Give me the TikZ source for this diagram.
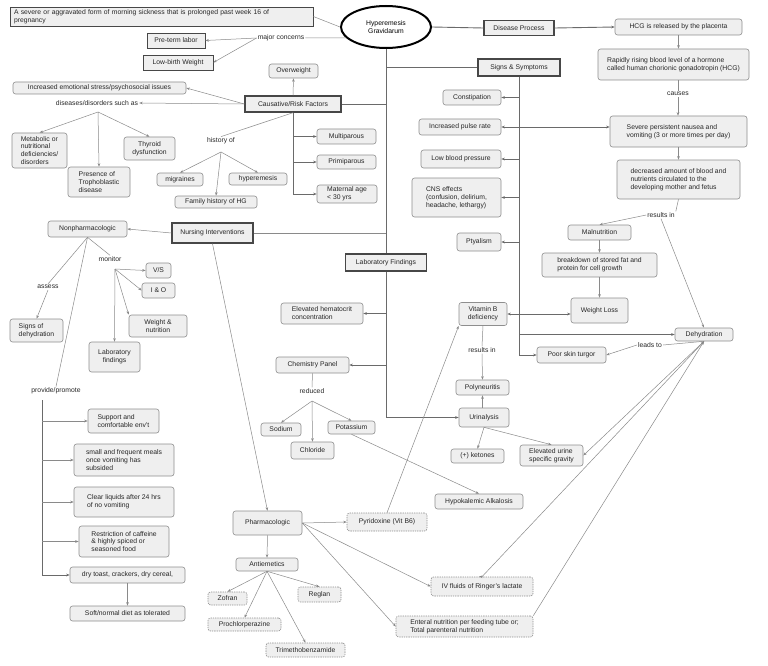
\documentclass[tikz,border=0pt]{standalone}
\usepackage{fontspec}
\setmainfont{Liberation Sans}
\usetikzlibrary{arrows.meta,shapes.geometric}
\definecolor{boxfill}{HTML}{EFEFEF}
\definecolor{boxline}{HTML}{8E8E8E}
\definecolor{tline}{HTML}{474747}
\definecolor{lnc}{HTML}{8A8A8A}
\definecolor{trk}{HTML}{6A6A6A}
\newcommand{\fsz}{\fontsize{6.8}{7.9}\selectfont}
\tikzset{
  base/.style={font=\fsz, inner sep=1.5pt, align=center, text=black!85},
  sz/.style 2 args={minimum width=#1pt, minimum height=#2pt},
  cbox/.style={base, draw=boxline, fill=boxfill, rounded corners=2.5pt, line width=0.6pt},
  tbox/.style={base, draw=tline, fill=boxfill, line width=1.4pt},
  sbox/.style={base, draw=tline, fill=boxfill, line width=0.7pt},
  dbox/.style={cbox, dash pattern=on 1.3pt off 1pt},
  lbl/.style={base, inner sep=1pt},
  conn/.style={draw=lnc, line width=0.5pt},
  arr/.style={conn, -{Stealth[length=3.5pt,width=2.6pt]}},
  trunkl/.style={draw=trk, line width=0.9pt},
  tarr/.style={trunkl, -{Stealth[length=3.5pt,width=2.6pt]}}
}
\begin{document}
\begin{tikzpicture}[x=1pt,y=-1pt]
\useasboundingbox (0,0) rectangle (768,666);
\fill[white] (0,0) rectangle (768,666);

% ---------- main nodes ----------
\node[ellipse, draw=black, line width=2pt, fill=white, minimum width=90pt, minimum height=42pt, font=\fsz, align=center, inner sep=0pt] (hg) at (386,27) {Hyperemesis\\Gravidarum};
\node[sbox, inner xsep=4pt, text width=295pt, align=left, minimum height=19pt] (def) at (161.5,16.5) {A severe or aggravated form of morning sickness that is prolonged past week 16 of\\pregnancy};
\node[sbox, sz={58}{15}] (preterm) at (176,40.5) {Pre-term labor};
\node[sbox, sz={70}{15}] (lbw) at (178,62.5) {Low-birth Weight};
\node[lbl] (mc) at (281,38) {major concerns};

\node[cbox, sz={49}{14}] (overweight) at (293.5,71) {Overweight};
\node[tbox, sz={96}{16}] (causative) at (293,104) {Causative/Risk Factors};
\node[cbox, sz={173}{12}] (emotional) at (99.5,88) {Increased emotional stress/psychosocial issues};
\node[lbl] (diseases) at (97,103) {diseases/disorders such as};
\node[cbox, sz={55}{35}, align=left] (metabolic) at (39.5,150.5) {Metabolic or\\nutritional\\deficiencies/\\disorders};
\node[cbox, sz={51}{23}] (thyroid) at (149.5,148.5) {Thyroid\\dysfunction};
\node[cbox, sz={62}{30}, align=left] (tropho) at (99,182) {Presence of\\Trophoblastic\\disease};
\node[lbl] (historyof) at (221,141) {history of};
\node[cbox, sz={46}{13}] (migraines) at (180,179.5) {migraines};
\node[cbox, sz={58}{12}] (hyperemesis) at (258,179) {hyperemesis};
\node[cbox, sz={82}{12}] (famhist) at (216,202) {Family history of HG};
\node[cbox, sz={59}{15}] (multiparous) at (346.5,136.5) {Multiparous};
\node[cbox, sz={59}{14}] (primiparous) at (346.5,162) {Primiparous};
\node[cbox, sz={60}{18}, align=left] (maternal) at (347,194) {Maternal age\\< 30 yrs};

\node[tbox, sz={70}{15}] (dp) at (519,28) {Disease Process};
\node[cbox, sz={127}{16}] (hcg) at (678.5,27) {HCG is released by the placenta};
\node[cbox, sz={151}{31}, align=left] (rapidly) at (673.5,64.5) {Rapidly rising blood level of a hormone\\called human chorionic gonadotropin (HCG)};
\node[lbl] (causes) at (678,94) {causes};
\node[cbox, sz={137}{31}, align=left] (severe) at (678.5,131.5) {Severe persistent nausea and\\vomiting (3 or more times per day)};
\node[cbox, sz={123}{39}, align=left] (decreased) at (678.5,179.5) {decreased amount of blood and\\nutrients circulated to the\\developing mother and fetus};
\node[lbl] (r1) at (661,215) {results in};
\node[cbox, sz={63}{15}] (malnutrition) at (599.5,232.5) {Malnutrition};
\node[cbox, sz={115}{24}, align=left] (breakdown) at (599.5,265) {breakdown of stored fat and\\protein for cell growth};
\node[cbox, sz={57}{25}] (weightloss) at (599.5,310.5) {Weight Loss};
\node[cbox, sz={58}{13}] (dehydration) at (704,334.5) {Dehydration};
\node[lbl] (leadsto) at (650,345) {leads to};
\node[cbox, sz={69}{16}] (skinturgor) at (571.5,355) {Poor skin turgor};

\node[tbox, sz={82}{17}] (signs) at (519,67.5) {Signs \& Symptoms};
\node[cbox, sz={58}{15}] (constipation) at (472,97.5) {Constipation};
\node[cbox, sz={82}{16}] (pulse) at (460,127) {Increased pulse rate};
\node[cbox, sz={80}{18}] (lowbp) at (461,159) {Low blood pressure};
\node[cbox, sz={89}{39}, align=left] (cns) at (456.5,197.5) {CNS effects\\(confusion, delirium,\\headache, lethargy)};
\node[cbox, sz={44}{18}] (ptyalism) at (479,242) {Ptyalism};
\node[cbox, sz={48}{23}] (vitb) at (483,314) {Vitamin B\\deficiency};
\node[lbl] (r2) at (482,350) {results in};
\node[cbox, sz={53}{15}] (polyneuritis) at (482.5,387.5) {Polyneuritis};
\node[cbox, sz={50}{19}] (urinalysis) at (484,417.5) {Urinalysis};
\node[cbox, sz={53}{14}] (ketones) at (477.5,456) {(+) ketones};
\node[cbox, sz={63}{21}, align=left] (urinegrav) at (551.5,455.5) {Elevated urine\\specific gravity};

\node[tbox, sz={81}{17}] (labfind) at (386,262.5) {Laboratory Findings};
\node[cbox, sz={82}{21}, align=left] (hematocrit) at (322,313.5) {Elevated hematocrit\\concentration};
\node[cbox, sz={73}{16}] (chem) at (312.5,365) {Chemistry Panel};
\node[lbl] (reduced) at (312,391) {reduced};
\node[cbox, sz={40}{13}] (sodium) at (281,429.5) {Sodium};
\node[cbox, sz={43}{17}] (chloride) at (312.5,450.5) {Chloride};
\node[cbox, sz={47}{13}] (potassium) at (351.5,427.5) {Potassium};
\node[cbox, sz={88}{15}] (hypok) at (479,501.5) {Hypokalemic Alkalosis};
\node[dbox, sz={80}{18}] (pyridoxine) at (387,522) {Pyridoxine (Vit B6)};
\node[dbox, sz={102}{19}] (ivfluids) at (482,586.5) {IV fluids of Ringer's lactate};
\node[dbox, sz={137}{21}, align=left] (enteral) at (464.5,626.5) {Enteral nutrition per feeding tube or;\\Total parenteral nutrition};

\node[cbox, sz={69}{24}] (pharma) at (267.5,523) {Pharmacologic};
\node[cbox, sz={62}{13}] (antiemetics) at (267,564.5) {Antiemetics};
\node[dbox, sz={39}{13}] (zofran) at (227.5,598.5) {Zofran};
\node[dbox, sz={43}{15}] (reglan) at (319.5,594.5) {Reglan};
\node[dbox, sz={73}{13}] (prochlor) at (244.5,624.5) {Prochlorperazine};
\node[dbox, sz={79}{14}] (trimetho) at (305.5,650) {Trimethobenzamide};

\node[tbox, sz={81}{20}] (nursing) at (212.5,233) {Nursing Interventions};
\node[cbox, sz={79}{16}] (nonpharm) at (87.5,229) {Nonpharmacologic};
\node[lbl] (monitor) at (110,259) {monitor};
\node[lbl] (assess) at (48,287) {assess};
\node[cbox, sz={53}{23}, align=left] (signsdehyd) at (36.5,330.5) {Signs of\\dehydration};
\node[cbox, sz={25}{15}] (vs) at (158.5,270.5) {V/S};
\node[cbox, sz={33}{15}] (io) at (158.5,290.5) {I \& O};
\node[cbox, sz={58}{22}] (weightnut) at (158,326) {Weight \&\\nutrition};
\node[cbox, sz={51}{30}] (labfindings2) at (114.5,357) {Laboratory\\findings};
\node[lbl] (provide) at (56,391) {provide/promote};
\node[cbox, sz={71}{24}, align=left] (support) at (123.5,421) {Support and\\comfortable env't};
\node[cbox, sz={100}{32}, align=left] (smallmeals) at (124,460) {small and frequent meals\\once vomiting has\\subsided};
\node[cbox, sz={100}{30}, align=left] (clear) at (124,502) {Clear liquids after 24 hrs\\of no vomiting};
\node[cbox, sz={90}{31}, align=left] (restriction) at (124,541.5) {Restriction of caffeine\\\& highly spiced or\\seasoned food};
\node[cbox, sz={115}{16}] (drytoast) at (127.5,575) {dry toast, crackers, dry cereal,};
\node[cbox, sz={115}{15}] (softdiet) at (127.5,613.5) {Soft/normal diet as tolerated};

\coordinate (hist0) at (221,152);
\coordinate (dis0) at (98,112);
\coordinate (mo) at (115,269);
\coordinate (pv) at (42,400);
\coordinate (rd) at (312,401);

% ---------- connectors ----------
\draw[conn] (hg.west) -- (def.east);
\draw[conn] (hg.195) -- (mc.east);
\draw[arr] (mc.west) -- (preterm.east);
\draw[arr] (mc.west) -- (lbw.east);

\draw[trunkl] (hg.south) -- (labfind.north);
\draw[tarr] (labfind.south) |- (urinalysis.west);
\draw[trunkl] (hg.south |- signs.west) -- (signs.west);
\draw[trunkl] (causative.east) -- (causative.east -| hg.south);
\draw[conn, line width=0.7pt] (nursing.east) -- (nursing.east -| hg.south);
\draw[tarr] (hematocrit.east -| hg.south) -- (hematocrit.east);
\draw[tarr] (chem.east -| hg.south) -- (chem.east);

\draw[trunkl] (hg.east) -- (dp.west);
\draw[tarr] (dp.east) -- (hcg.west);
\draw[arr] (hcg.south) -- (hcg.south |- rapidly.north);
\draw[conn] (causes |- rapidly.south) -- (causes.north);
\draw[arr] (causes.south) -- (causes |- severe.north);
\draw[arr] (severe.south) -- (decreased.north);
\draw[conn] (decreased.south) -- (r1.north east);
\draw[arr] (r1.west) -- (malnutrition.north);
\draw[arr] (r1.south) -- (dehydration.north);
\draw[arr] (malnutrition.south) -- (breakdown.north);
\draw[arr] (breakdown.south) -- (weightloss.north);
\draw[conn] (dehydration.south) -- (leadsto.east);
\draw[arr] (leadsto.west) -- (skinturgor.east);

\draw[tarr] (signs.south) |- (skinturgor.west);
\draw[tarr] (constipation.east -| signs.south) -- (constipation.east);
\draw[tarr] (pulse.east -| signs.south) -- (pulse.east);
\draw[tarr] (signs.south |- pulse.east) -- (severe.west |- pulse.east);
\draw[tarr] (lowbp.east -| signs.south) -- (lowbp.east);
\draw[tarr] (cns.east -| signs.south) -- (cns.east);
\draw[tarr] (ptyalism.east -| signs.south) -- (ptyalism.east);
\draw[tarr] (vitb.east -| signs.south) -- (vitb.east);
\draw[tarr] (signs.south |- vitb.east) -- (weightloss.west |- vitb.east);
\draw[tarr] (signs.south |- dehydration.west) -- (dehydration.west);

\draw[conn] (vitb.south) -- (r2.north);
\draw[arr] (r2.south) -- (polyneuritis.north);
\draw[arr] (urinalysis.north -| polyneuritis.south) -- (polyneuritis.south);
\draw[arr] (urinalysis.south) -- (ketones.north);
\draw[arr] (urinalysis.south) -- (urinegrav.north);
\draw[arr] (dehydration.south) -- (urinegrav.east);
\draw[arr] (ivfluids.north) -- (dehydration.south);
\draw[arr] (enteral.north east) -- (dehydration.south);
\draw[arr] (ivfluids.north) -- (ivfluids.north -| hypok.south);
\draw[arr] (potassium.south) -- (hypok.north);

\draw[conn] (chem.south) -- (reduced.north);
\draw[arr] (rd) -- (sodium.north);
\draw[arr] (rd) -- (chloride.north);
\draw[arr] (rd) -- (potassium.north);

\draw[arr] (nursing.south) -- (pharma.north);
\draw[arr] (pharma.east) -- (pyridoxine.west);
\draw[arr] (pharma.east) -- (ivfluids.west);
\draw[arr] (pharma.east) -- (enteral.west);
\draw[arr] (pyridoxine.north) -- (vitb.south west);
\draw[arr] (pharma.south) -- (antiemetics.north);
\draw[arr] (antiemetics.south) -- (zofran.north);
\draw[arr] (antiemetics.south) -- (prochlor.north);
\draw[arr] (antiemetics.south) -- (trimetho.north);
\draw[arr] (antiemetics.south) -- (reglan.north);

\draw[arr] (causative.north) -- (overweight.south);
\draw[arr] (causative.west) -- (emotional.east);
\draw[arr] (causative.west) -- (diseases.east);
\draw[arr] (dis0) -- (metabolic.north);
\draw[arr] (dis0) -- (tropho.north);
\draw[arr] (dis0) -- (thyroid.north);
\draw[conn] (causative.south) -- (historyof.north);
\draw[arr] (hist0) -- (migraines.north);
\draw[arr] (hist0) -- (famhist.north);
\draw[arr] (hist0) -- (hyperemesis.north);
\draw[tarr] (causative.south) |- (maternal.west);
\draw[tarr] (causative.south |- multiparous.west) -- (multiparous.west);
\draw[tarr] (causative.south |- primiparous.west) -- (primiparous.west);

\draw[arr] (nursing.west) -- (nonpharm.east);
\draw[conn] (nonpharm.south) -- (monitor.north);
\draw[conn] (nonpharm.south) -- (assess.north);
\draw[conn] (nonpharm.south) -- (provide.north);
\draw[arr] (assess.south) -- (signsdehyd.north);
\draw[arr] (mo) -- (vs.west);
\draw[arr] (mo) -- (io.west);
\draw[arr] (mo) -- (weightnut.north west);
\draw[arr] (mo) -- (labfindings2.north);
\draw[arr, draw=trk, line width=0.7pt] (pv) |- (drytoast.west);
\draw[arr] (pv |- support.west) -- (support.west);
\draw[arr] (pv |- smallmeals.west) -- (smallmeals.west);
\draw[arr] (pv |- clear.west) -- (clear.west);
\draw[arr] (pv |- restriction.west) -- (restriction.west);
\draw[arr] (drytoast.south) -- (softdiet.north);
\end{tikzpicture}
\end{document}
